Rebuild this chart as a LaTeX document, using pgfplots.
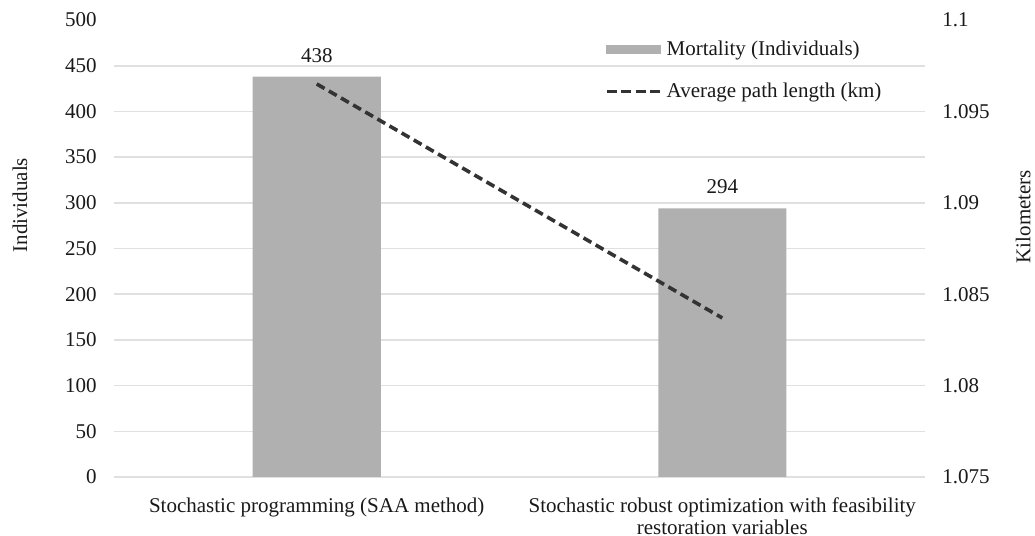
\documentclass[border=0pt]{standalone}
\usepackage{fontspec}
\setmainfont{Liberation Serif}
\usepackage{pgfplots}
\pgfplotsset{compat=1.18}
\definecolor{bargray}{RGB}{176,176,176}
\definecolor{linegray}{RGB}{51,51,51}
\definecolor{gridgray}{RGB}{224,224,224}
\definecolor{txt}{RGB}{25,25,25}
\begin{document}
\fontsize{10.5}{12}\selectfont
\begin{tikzpicture}
\pgfplotsset{
  base/.style={
    scale only axis, width=405.5pt, height=228.5pt,
    at={(0,0)}, anchor=south west,
    xmin=-0.5, xmax=1.5,
    axis line style={draw=none}, tick style={draw=none},
    /pgf/number format/assume math mode=true,
    tick label style={font=\fontsize{10.5}{12}\selectfont, text=txt},
    label style={font=\fontsize{10.5}{12}\selectfont, text=txt},
  }
}
\begin{axis}[base,
  ybar, bar width=64pt,
  ymin=0, ymax=500, ytick={0,50,100,150,200,250,300,350,400,450},
  extra y ticks={500}, extra y tick style={grid=none},
  ymajorgrids, grid style={gridgray, line width=0.8pt},
  xtick={0,1},
  xticklabels={Stochastic programming (SAA method),{Stochastic robust optimization with feasibility\\[-1.2pt]restoration variables}},
  xticklabel style={align=center, yshift=-2.5pt},
  yticklabel style={xshift=-5pt},
  ylabel={Individuals},
  ylabel style={at={(axis description cs:-0.116,0.595)}, anchor=center},
  nodes near coords,
  nodes near coords style={font=\fontsize{10.5}{12}\selectfont, text=txt, yshift=3.5pt},
]
\addplot[fill=bargray, draw=none] coordinates {(0,438) (1,294)};
\end{axis}
\begin{axis}[base,
  axis x line=none, axis y line*=right,
  ymin=1.075, ymax=1.1,
  ytick={1.075,1.08,1.085,1.09,1.095,1.1},
  yticklabel style={/pgf/number format/fixed, /pgf/number format/precision=3, xshift=5pt},
  ylabel={Kilometers},
  ylabel style={at={(axis description cs:1.121,0.57)}, anchor=center},
  legend style={draw=none, fill=none, at={(axis description cs:0.605,0.964)}, anchor=north west,
    cells={anchor=west}, row sep=8pt, inner sep=0pt,
    font=\fontsize{10.5}{12}\selectfont, text=txt},
]
\addlegendimage{legend image code/.code={\fill[bargray] (0pt,-2pt) rectangle (27pt,2pt);}}
\addlegendentry{Mortality (Individuals)}
\addplot[linegray, line width=1.8pt, dash pattern=on 4.5pt off 2.5pt,
  legend image code/.code={\draw[linegray, line width=1.8pt, dash pattern=on 5pt off 2.2pt] (0pt,0pt) -- (27pt,0pt);}]
  coordinates {(0,1.0965) (1,1.0837)};
\addlegendentry{Average path length (km)}
\end{axis}
\pgfresetboundingbox
\useasboundingbox (-57pt,-29.5pt) rectangle (460.5pt,238.5pt);
\end{tikzpicture}
\end{document}
